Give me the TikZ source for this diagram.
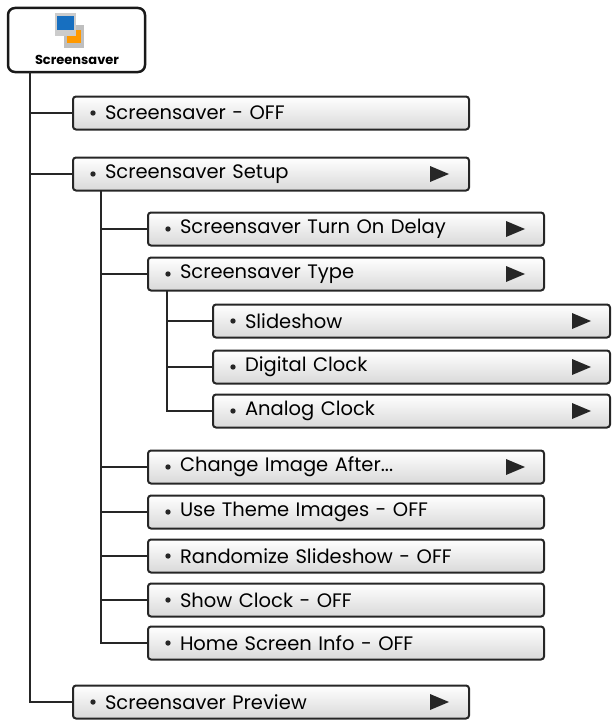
\documentclass[tikz,border=0pt]{standalone}
\usepackage{fontspec}
\setmainfont{Poppins}
\begin{document}
\begin{tikzpicture}[x=1pt,y=-1pt,
 item/.style={draw=black!85,line width=2pt,rounded corners=3pt,top color=white,bottom color=black!15,minimum height=33pt,anchor=west,text width=#1,inner sep=0pt,align=left,font=\fontsize{19.5}{21}\selectfont},
 conn/.style={line width=2pt,black!85},
 tri/.style={fill=black!85,draw=none}]
\useasboundingbox (0,0) rectangle (614,725);
\node[draw=black!90,line width=2.5pt,rounded corners=7pt,fill=white,minimum width=137pt,minimum height=64pt] (root) at (76.5,40) {};
\node[font=\bfseries\fontsize{13}{15}\selectfont] (rootlbl) at (77,60) {Screensaver};
\fill[black!25] (64,25) rectangle (84,48);
\fill[orange!80!yellow] (67,30) rectangle (81,43);
\fill[black!20] (55,13) rectangle (76,36);
\fill[cyan!50!blue] (57,16) rectangle (74,30);
\newcommand\itm[5]{\node[item=#4pt] (#1) at (#2,#3) {\hspace{32pt}#5};\fill[black!85] (#2+21,#3) circle (2.7pt);}
\newcommand\arr[2]{\fill[tri] (#1,#2-8) -- (#1+19,#2) -- (#1,#2+8) -- cycle;}
\itm{a}{72}{113}{396}{Screensaver - OFF}
\itm{b}{72}{174}{396}{Screensaver Setup}
\itm{c}{72}{702}{396}{Screensaver Preview}
\itm{b1}{147}{229}{396}{Screensaver Turn On Delay}
\itm{b2}{147}{274}{396}{Screensaver Type}
\itm{t1}{212}{321}{397}{Slideshow}
\itm{t2}{212}{367}{397}{Digital Clock}
\itm{t3}{212}{411}{397}{Analog Clock}
\itm{b3}{147}{467}{396}{Change Image After...}
\itm{b4}{147}{512}{396}{Use Theme Images - OFF}
\itm{b5}{147}{556}{396}{Randomize Slideshow - OFF}
\itm{b6}{147}{600}{396}{Show Clock - OFF}
\itm{b7}{147}{643}{396}{Home Screen Info - OFF}
\arr{430}{174}\arr{430}{702}
\arr{506}{229}\arr{506}{274}\arr{506}{467}
\arr{572}{321}\arr{572}{367}\arr{572}{411}
\coordinate (t0) at (30,72);
\draw[conn] (t0) -- (30,702) -- (c.west);
\draw[conn] (30,113) -- (a.west); \draw[conn] (30,174) -- (b.west);
\draw[conn] (101,191) -- (101,643) -- (b7.west);
\foreach \n/\y in {b1/229,b2/274,b3/467,b4/512,b5/556,b6/600} \draw[conn] (101,\y) -- (\n.west);
\draw[conn] (167,291) -- (167,411) -- (t3.west);
\draw[conn] (167,321) -- (t1.west); \draw[conn] (167,367) -- (t2.west);
\end{tikzpicture}
\end{document}
